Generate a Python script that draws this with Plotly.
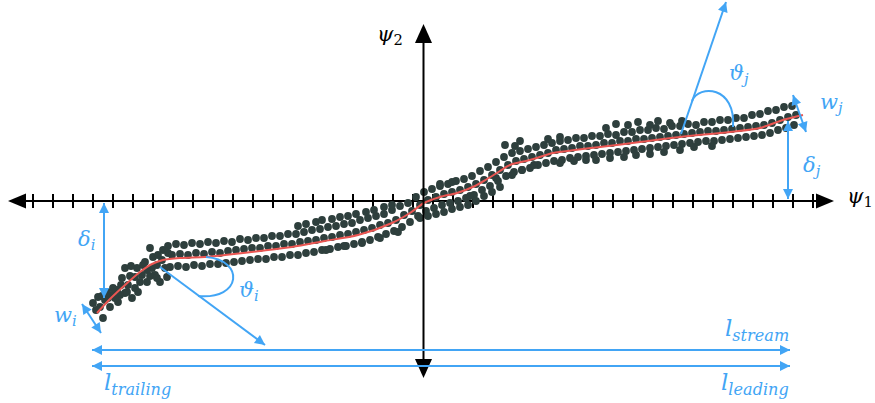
import plotly.graph_objects as go
import math

# ---------------- data (diagram coordinates, pixel-like frame) ----------------
# stream centre line knots
LINE_X = [97, 110, 125, 140, 152, 163, 180, 205, 225, 260, 292, 325, 358, 392, 410,
          424, 440, 457, 475, 487, 500, 510, 530, 553, 575, 600, 640, 680, 730, 760, 783, 803]
LINE_Y = [313, 299, 285, 272, 264, 260, 258, 257, 255, 251, 247, 241, 235, 223, 213,
          203, 197, 193, 186, 179, 171, 165, 160, 153, 150, 147, 142, 137, 132, 128, 120, 115]

# trailing-end scatter
TRAIL_X = [98, 93, 103, 100, 105, 110, 112, 118, 117, 122, 125, 128, 132, 135, 137, 138,
           142, 143, 147, 150, 152, 153, 155, 157, 160, 163, 165, 162, 167, 168, 125, 107,
           135, 147, 157, 120, 115,
           96, 108, 113, 121, 127, 130, 140, 145, 150, 158, 102, 131]
TRAIL_Y = [297, 303, 318, 307, 300, 307, 295, 302, 290, 278, 268, 285, 298, 277, 268, 292,
           275, 265, 282, 248, 268, 257, 275, 265, 282, 250, 268, 260, 277, 253, 293, 292,
           288, 270, 278, 295, 298,
           310, 298, 288, 285, 292, 276, 282, 262, 276, 255, 296, 266]

ROW_X = [168, 176, 184, 192, 200, 208, 216, 224, 232, 240,
         248, 256, 264, 272, 280, 288, 296, 304, 312, 320,
         328, 336, 344, 352, 360, 368, 376, 384, 392, 400,
         408, 416, 424, 432, 440, 448, 456, 464, 472, 480,
         488, 496, 504, 512, 520, 528, 536, 544, 552, 560,
         568, 576, 584, 592, 600, 608, 616, 624, 632, 640,
         648, 656, 664, 672, 680, 688, 696, 704, 712, 720,
         728, 736, 744, 752, 760, 768, 776, 784, 792]
ROW1_Y = [246, 244, 245, 243, 244, 242, 243, 241, 242, 239,
          240, 238, 238, 236, 236, 234, 234, 232, 230, 229,
          227, 226, 224, 223, 220, 218, 216, 214, 210, 206,
          203, 197, 192, 189, 186, 184, 181, 179, 176, 171,
          167, 162, 157, 153, 151, 149, 147, 145, 143, 141,
          140, 138, 138, 136, 136, 134, 135, 132, 132, 130,
          130, 128, 129, 126, 126, 124, 125, 122, 122, 120,
          120, 118, 118, 115, 114, 111, 110, 107, 106]
ROW2_Y = [255, 254, 255, 253, 254, 252, 253, 251, 250, 249,
          248, 248, 246, 246, 244, 244, 242, 241, 240, 238,
          237, 235, 234, 232, 230, 228, 225, 223, 220, 215,
          211, 205, 200, 197, 194, 192, 190, 187, 184, 180,
          175, 170, 165, 161, 159, 157, 155, 153, 150, 149,
          148, 146, 146, 145, 143, 143, 141, 141, 139, 139,
          138, 137, 136, 135, 134, 133, 132, 131, 131, 130,
          129, 128, 127, 126, 125, 123, 120, 117, 115]
ROW3_Y = [267, 266, 267, 265, 266, 264, 264, 263, 262, 261,
          260, 259, 259, 257, 257, 255, 255, 253, 252, 250,
          249, 247, 246, 244, 242, 240, 237, 234, 231, 227,
          222, 216, 211, 208, 205, 203, 201, 198, 195, 190,
          186, 181, 176, 172, 170, 168, 165, 163, 161, 160,
          158, 157, 156, 155, 154, 153, 152, 151, 150, 149,
          148, 147, 146, 145, 144, 143, 142, 141, 141, 140,
          139, 138, 137, 136, 135, 133, 130, 128, 125]
ROW2_SHIFT = 4
ROW3_SHIFT = 2

EXTRA_X = [298, 306, 316, 322, 332, 340, 348, 356, 366, 374, 384, 392,
           420, 428, 436, 444, 452, 460, 468, 476, 484, 492, 500,
           505, 515, 560, 574, 586,
           606, 616, 628, 638, 650, 658, 670, 682,
           596, 610, 624, 636, 650, 664, 680, 694, 712,
           326, 344, 362, 380, 398,
           440, 452, 470, 496, 512, 522, 534, 548, 560, 520]
EXTRA_Y = [226, 224, 222, 220, 219, 217, 216, 214, 212, 210, 207, 205,
           218, 216, 214, 212, 209, 207, 205, 201, 196, 192, 187,
           145, 146, 163, 161, 160,
           128, 124, 125, 122, 125, 121, 123, 121,
           160, 158, 157, 155, 154, 152, 150, 147, 146,
           250, 246, 243, 238, 232,
           184, 182, 196, 178, 175, 170, 165, 139, 137, 141]

TICK_X = [33 + 20 * k for k in range(40)]

# axes geometry
ORIGIN = (423.5, 201)
H_AXIS = (25, 817)
V_AXIS = (42, 360)

DOT = '#2e3f3d'
RED = '#ea5652'
BLUE = '#42a5f5'

fig = go.Figure()

dots_x = TRAIL_X + ROW_X + [x + ROW2_SHIFT for x in ROW_X] + [x + ROW3_SHIFT for x in ROW_X] + EXTRA_X
dots_y = TRAIL_Y + ROW1_Y + ROW2_Y + ROW3_Y + EXTRA_Y
fig.add_trace(go.Scatter(x=dots_x, y=dots_y, mode='markers',
                         marker=dict(size=7.8, color=DOT, line=dict(width=0)),
                         hoverinfo='skip', showlegend=False))
fig.add_trace(go.Scatter(x=LINE_X, y=LINE_Y, mode='lines',
                         line=dict(color=RED, width=2, shape='spline', smoothing=0.8),
                         hoverinfo='skip', showlegend=False))

shapes = []


def head(tip, frm, color, length, half, layer='above'):
    dx, dy = tip[0] - frm[0], tip[1] - frm[1]
    n = math.hypot(dx, dy)
    ux, uy = dx / n, dy / n
    bx, by = tip[0] - ux * length, tip[1] - uy * length
    px, py = -uy * half, ux * half
    path = f"M {tip[0]} {tip[1]} L {bx + px} {by + py} L {bx - px} {by - py} Z"
    shapes.append(dict(type='path', path=path, xref='x', yref='y', fillcolor=color,
                       line=dict(width=0), layer=layer))


def seg(p, q, color, width, layer='above'):
    shapes.append(dict(type='line', x0=p[0], y0=p[1], x1=q[0], y1=q[1], xref='x', yref='y',
                       line=dict(color=color, width=width), layer=layer))


def arrow(p, q, both=False, color=BLUE):
    seg(p, q, color, 2)
    head(q, p, color, 10, 5)
    if both:
        head(p, q, color, 10, 5)


# horizontal axis with ticks (below the dots)
seg((H_AXIS[0], ORIGIN[1]), (H_AXIS[1], ORIGIN[1]), 'black', 2, layer='below')
for tx in TICK_X:
    seg((tx, ORIGIN[1] - 7), (tx, ORIGIN[1] + 7), 'black', 2, layer='below')
head((8, ORIGIN[1]), (30, ORIGIN[1]), 'black', 18, 7.5, layer='below')
head((834, ORIGIN[1]), (800, ORIGIN[1]), 'black', 18, 7.5, layer='below')

# vertical axis
seg((ORIGIN[0], V_AXIS[0]), (ORIGIN[0], V_AXIS[1]), 'black', 2)
head((ORIGIN[0], 24), (ORIGIN[0], 60), 'black', 19, 8.5)
head((ORIGIN[0], 378), (ORIGIN[0], 340), 'black', 19, 8.5)

# blue annotations
arrow((104, 298), (104, 203), both=True)            # delta_i
arrow((82, 304), (101, 333), both=True)             # w_i
arrow((160, 267), (265, 345))                       # theta_i direction
arrow((681, 134), (726, 2))                         # theta_j direction
arrow((793, 95), (806, 132), both=True)             # w_j
arrow((788, 121), (788, 199), both=True)            # delta_j
arrow((92, 350), (790, 350), both=True)             # l_stream
arrow((92, 366), (790, 366), both=True)             # l_trailing / l_leading

shapes.append(dict(type='path', path="M 206 257 C 245 260, 242 300, 198 296",
                   xref='x', yref='y', line=dict(color=BLUE, width=2), layer='above'))
shapes.append(dict(type='path', path="M 692 101 C 699 84, 736 86, 733 127",
                   xref='x', yref='y', line=dict(color=BLUE, width=2), layer='above'))

SERIF = "DejaVu Serif, Liberation Serif, serif"


def label(x, y, text, color=BLUE, size=21, xanchor='center'):
    return dict(x=x, y=y, xref='x', yref='y', text=text, showarrow=False,
                font=dict(family=SERIF, size=size, color=color), xanchor=xanchor,
                yanchor='middle')


annotations = [
    label(390, 35, "<i>ψ</i><sub>2</sub>", color='black'),
    label(860, 197, "<i>ψ</i><sub>1</sub>", color='black'),
    label(86, 240, "<i>δ<sub>i</sub></i>"),
    label(65, 316, "<i>w<sub>i</sub></i>"),
    label(249, 291, "<i>ϑ<sub>i</sub></i>"),
    label(739, 74, "<i>ϑ<sub>j</sub></i>"),
    label(831, 103, "<i>w<sub>j</sub></i>"),
    label(812, 166, "<i>δ<sub>j</sub></i>"),
    label(791, 330, "<i>l<sub>stream</sub></i>", size=23, xanchor='right'),
    label(102, 384, "<i>l<sub>trailing</sub></i>", size=23, xanchor='left'),
    label(791, 384, "<i>l<sub>leading</sub></i>", size=23, xanchor='right'),
]

fig.update_layout(
    width=875, height=403,
    margin=dict(l=0, r=0, t=0, b=0),
    paper_bgcolor='white', plot_bgcolor='white',
    xaxis=dict(range=[0, 875], visible=False, fixedrange=True),
    yaxis=dict(range=[403, 0], visible=False, fixedrange=True),
    shapes=shapes, annotations=annotations, showlegend=False,
)

fig.write_html("out.html", config={'displayModeBar': False},
               post_script="document.body.style.margin='0';document.body.style.overflow='hidden';")
